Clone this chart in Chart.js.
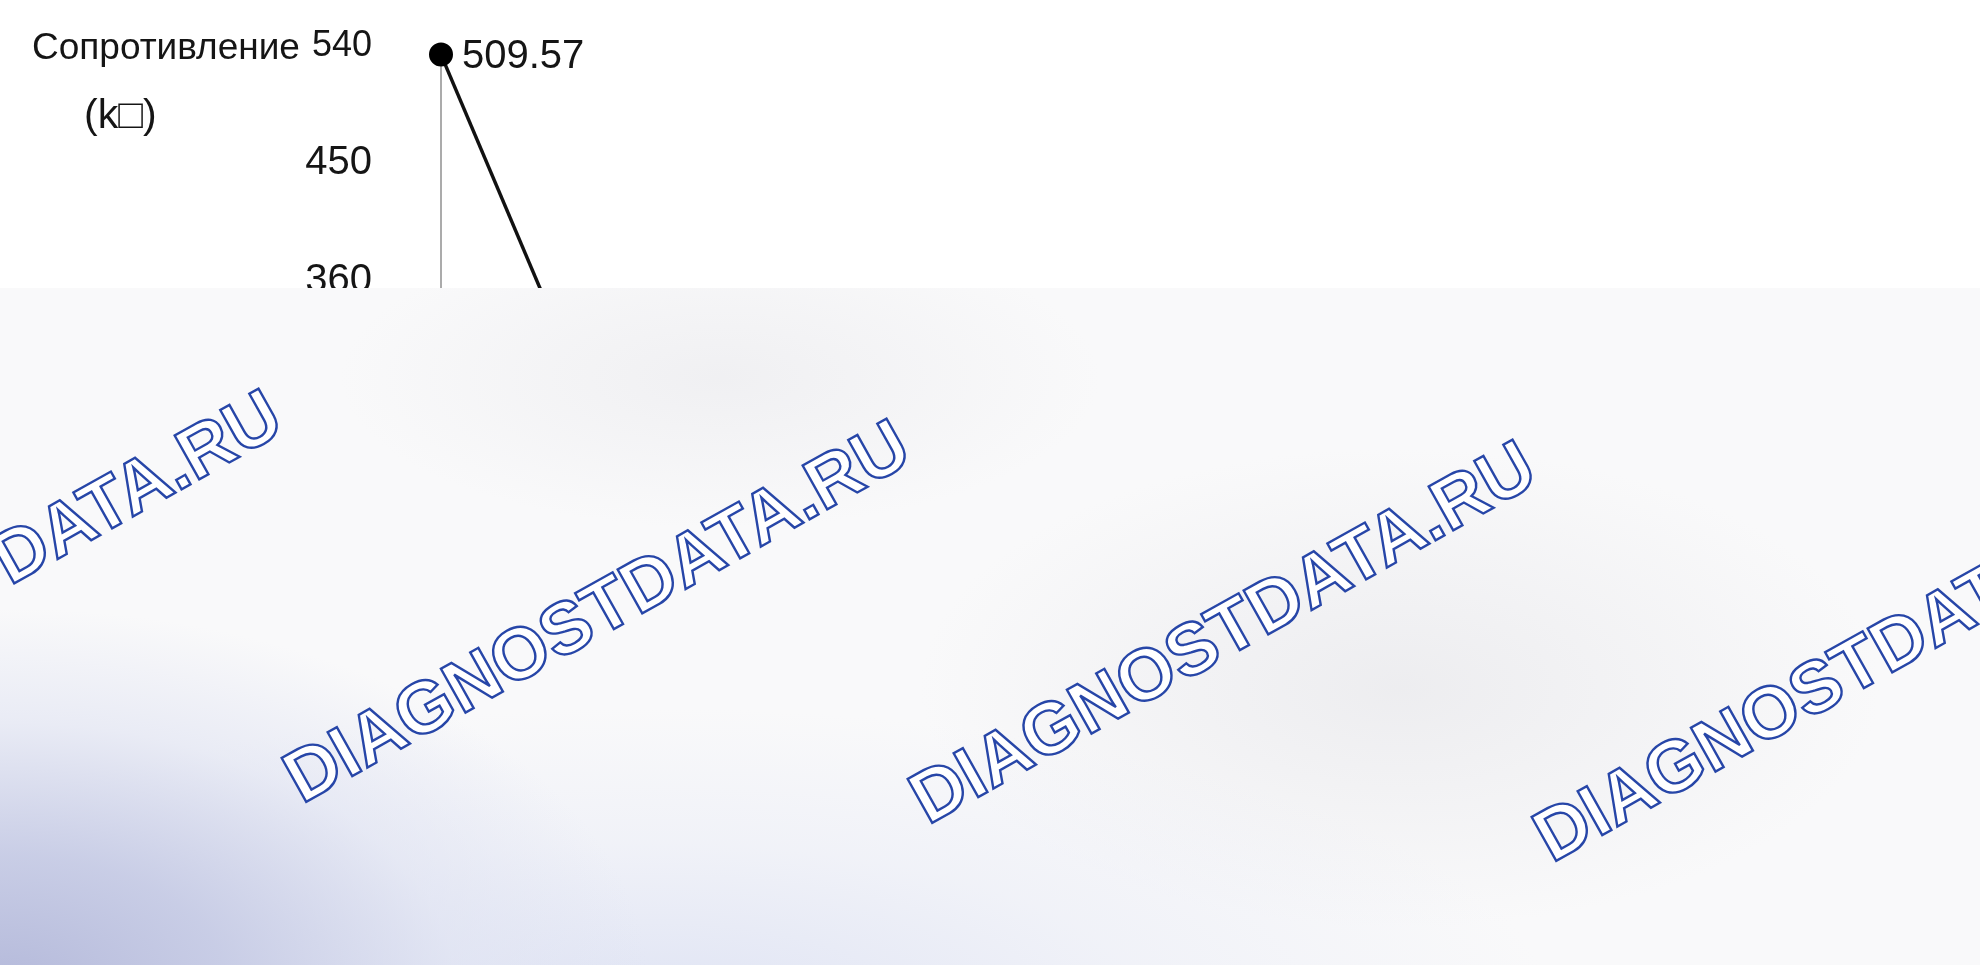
<!DOCTYPE html>
<html lang="ru">
<head>
<meta charset="utf-8">
<title>Сопротивление</title>
<script src="https://cdn.jsdelivr.net/npm/chart.js@4.4.1/dist/chart.umd.min.js"></script>
<style>
  body { margin: 0; background: #fff; }
  #wrap { position: relative; width: 1980px; height: 965px; overflow: hidden; font-family: "Liberation Sans", Arial, sans-serif; }
  #chart { position: absolute; left: 0; top: 0; }
  .ytitle { position: absolute; color: #151515; line-height: 1; white-space: nowrap; }
  #mark {
    position: absolute; left: 0; top: 288px; width: 1980px; height: 677px; overflow: hidden;
    background:
      radial-gradient(ellipse 650px 380px at 0px 700px, rgba(180,185,218,1) 0%, rgba(196,201,228,0.9) 35%, rgba(220,224,241,0.55) 70%, rgba(240,242,248,0) 100%),
      radial-gradient(ellipse 900px 300px at 650px 720px, rgba(220,225,243,0.9) 0%, rgba(232,235,246,0.5) 55%, rgba(245,246,250,0) 100%),
      radial-gradient(ellipse 380px 150px at 720px 90px, rgba(236,236,239,0.7) 0%, rgba(242,242,244,0) 100%),
      radial-gradient(ellipse 480px 240px at 1400px 400px, rgba(234,234,237,0.8) 0%, rgba(242,242,244,0) 100%),
      #f9f9fa;
  }
  #mark span {
    position: absolute; transform: translate(-50%, -50%) rotate(-29.3deg);
    font: bold 73px "Liberation Sans", Arial, sans-serif; color: #fff;
    -webkit-text-stroke: 2.4px #2746a8; white-space: nowrap; line-height: 1;
  }
</style>
</head>
<body>
<div id="wrap">
  <canvas id="chart" width="1980" height="965"></canvas>
  <div class="ytitle" style="left:32px; top:28px; font-size:37px;">Сопротивление</div>
  <div class="ytitle" style="left:84px; top:94px; font-size:41px;">(k□)</div>
  <div id="mark">
    <span style="left:-32px; top:292px;">DIAGNOSTDATA.RU</span>
    <span style="left:596px; top:322px;">DIAGNOSTDATA.RU</span>
    <span style="left:1222px; top:343px;">DIAGNOSTDATA.RU</span>
    <span style="left:1846px; top:381px;">DIAGNOSTDATA.RU</span>
    <span style="left:2140px; top:-201px;">DIAGNOSTDATA.RU</span>
  </div>
</div>
<script>
const xLabels = ['1', '2', '3', '4', '5', '6', '7', '8'];
const resistance = [509.57, 133];
const yTicks = [540, 450, 360, 270, 180, 90, 0];

const fontFamily = '"Liberation Sans", Arial, sans-serif';

// value labels next to the points
const pointLabels = {
    id: 'pointLabels',
    afterDatasetsDraw(chart) {
        const ctx = chart.ctx;
        const meta = chart.getDatasetMeta(0);
        ctx.save();
        ctx.font = '40px ' + fontFamily;
        ctx.fillStyle = '#151515';
        ctx.textBaseline = 'middle';
        meta.data.forEach((pt, i) => {
            ctx.fillText(resistance[i].toFixed(2), pt.x + 21, pt.y + 2);
        });
        ctx.restore();
    }
};

let ctx = document.getElementById('chart');
let chart = new Chart(ctx, {
    type: 'line',
    data: {
        labels: xLabels,
        datasets: [{
            data: resistance,
            borderColor: '#111',
            borderWidth: 3.5,
            pointRadius: 11,
            pointBackgroundColor: '#000',
            pointBorderColor: '#000',
            pointBorderWidth: 2,
            tension: 0,
            clip: false,
        }],
    },
    options: {
        responsive: false,
        animation: false,
        layout: { padding: { top: 54, bottom: 245, left: 0, right: 80 } },
        plugins: { legend: { display: false }, tooltip: { enabled: false } },
        scales: {
            x: { display: false, offset: false },
            y: {
                min: 0,
                max: 510,
                afterBuildTicks: scale => { scale.ticks = yTicks.map(v => ({ value: v })) },
                // wide axis box; the big tick padding should not push the plot down
                afterFit: scale => {
                    scale.width = 441;
                    scale.paddingTop = 24;
                    scale.paddingBottom = 24;
                },
                grid: { display: false, drawTicks: false },
                border: { display: true, color: '#ababab', width: 2 },
                ticks: {
                    padding: 69,
                    labelOffset: 31,
                    autoSkip: false,
                    color: '#151515',
                    font: c => ({ family: fontFamily, size: c.tick && c.tick.value === 540 ? 36 : 40 }),
                },
            },
        },
    },
    plugins: [pointLabels],
});
</script>
</body>
</html>
